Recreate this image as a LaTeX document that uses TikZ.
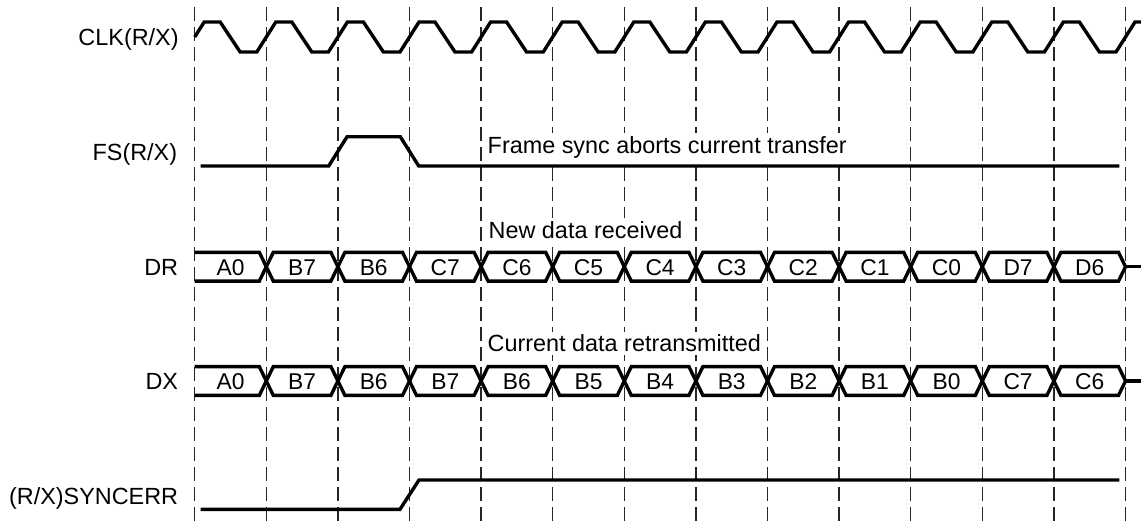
\documentclass[tikz,border=0pt]{standalone}
\usepackage{fontspec}
\setmainfont{Liberation Sans}
\begin{document}
\begin{tikzpicture}[x=0.5pt,y=-0.5pt,
  sig/.style={line width=1.7pt},
  vline/.style={line width=0.7pt,dash pattern=on 7pt off 3pt,black!85},
  siglabel/.style={anchor=base east,inner sep=0pt,font=\fontsize{11.7}{14}\selectfont},
  note/.style={anchor=base west,fill=white,inner sep=1.5pt,font=\fontsize{11.7}{14}\selectfont},
  cell/.style={anchor=base,inner sep=0pt,font=\fontsize{11.4}{13}\selectfont}]
\useasboundingbox (0,0) rectangle (1141,521);
\foreach \k in {0,...,13}
  \draw[vline] ({194.7+71.6*\k},7) -- ({194.7+71.6*\k},521);
\node[note] (fsnote) at (484.3,153.3) {Frame sync aborts current transfer};
\node[note] (drnote) at (485.3,238.3) {New data received};
\node[note] (dxnote) at (484.3,351.7) {Current data retransmitted};

\node[siglabel] (clk) at (179,45.4) {CLK(R/X)};
\node[siglabel] (fs) at (177.5,160) {FS(R/X)};
\node[siglabel] (dr) at (178.5,275) {DR};
\node[siglabel] (dx) at (178.5,389.4) {DX};
\node[siglabel] (syncerr) at (178.5,504) {(R/X)SYNCERR};

% clock
\draw[sig] (194.7,37) \foreach \k in {0,...,12}{
  -- ({194.7+71.6*\k+9.5},22) -- ({194.7+71.6*\k+25.5},22)
  -- ({194.7+71.6*\k+45.5},52) -- ({194.7+71.6*\k+62.1},52)}
  -- (1135,22) -- (1141,22);
% frame sync and sync error
\draw[sig] (200.7,166) -- (328.7,166) -- (347.1,136.7) -- (400.3,136.7)
  -- (418.7,166) -- (1119.3,166);
\draw[sig] (200.7,509.3) -- (400,509.3) -- (419,480) -- (1119.3,480);

% data buses
\foreach \row/\ym/\lst in {dr/266.7/{A0,B7,B6,C7,C6,C5,C4,C3,C2,C1,C0,D7,D6},
                          dx/381/{A0,B7,B6,B7,B6,B5,B4,B3,B2,B1,B0,C7,C6}}{
  \foreach \lbl [count=\k from 0] in \lst {
    \pgfmathsetmacro\xa{194.7+71.6*\k}
    \pgfmathsetmacro\xb{\xa+71.6}
    \ifnum\k=0
      \draw[sig] (\xa,\ym-14.4) -- (\xb-7,\ym-14.4) -- (\xb,\ym)
        -- (\xb-7,\ym+14.4) -- (\xa,\ym+14.4);
    \else
      \draw[sig] (\xa,\ym) -- (\xa+7,\ym-14.4) -- (\xb-7,\ym-14.4) -- (\xb,\ym)
        -- (\xb-7,\ym+14.4) -- (\xa+7,\ym+14.4) -- cycle;
    \fi
    \node[cell] (\row\k) at ({(\xa+\xb)/2},\ym+8.3) {\lbl};
  }
  \draw[sig] (1125.5,\ym) -- (1141,\ym);
}
\end{tikzpicture}
\end{document}
